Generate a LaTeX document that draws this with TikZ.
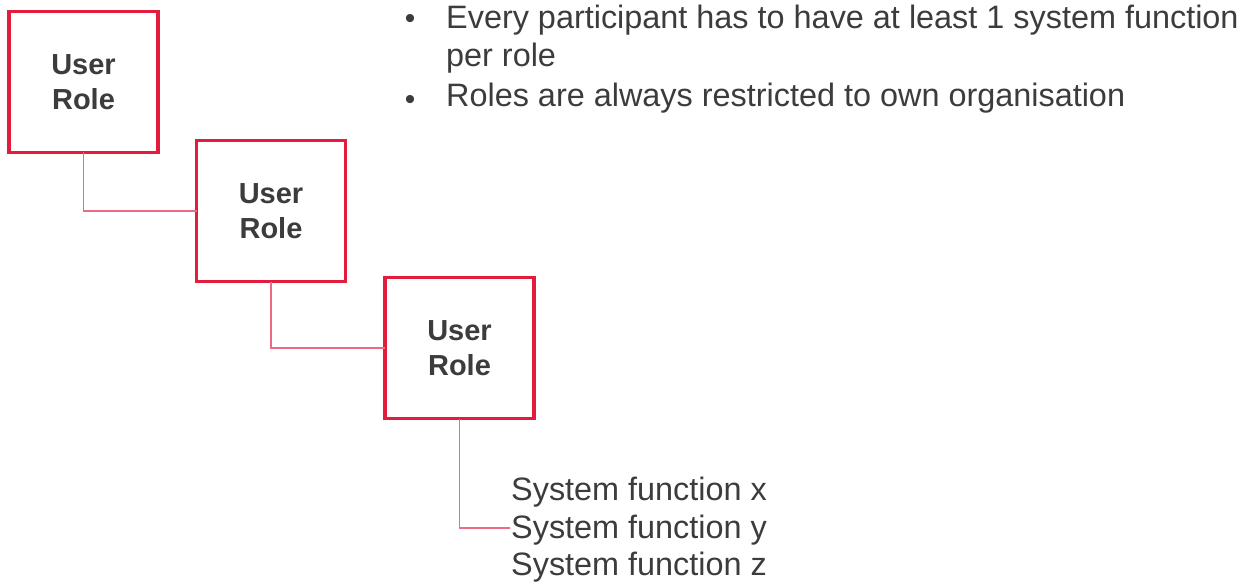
\documentclass[tikz,border=0pt]{standalone}
\usepackage{fontspec}
\setmainfont{Liberation Sans}
\definecolor{rolered}{HTML}{E31B3D}
\definecolor{linkred}{HTML}{EE6A80}
\definecolor{txt}{HTML}{3C3C3C}
\begin{document}
\begin{tikzpicture}[x=1pt,y=-1pt,
  rolebox/.style={draw=rolered,line width=3.5pt,rectangle,minimum width=149pt,minimum height=141pt,
    outer sep=0pt,inner sep=0pt,align=center,text=txt,font=\fontsize{29}{35}\selectfont\bfseries},
  link/.style={draw=linkred,line width=1.4pt},
  bodytext/.style={text=txt,inner sep=0pt,font=\fontsize{32.4}{38}\selectfont,anchor=base west},
  bulletdot/.style={text=txt,inner sep=0pt,font=\fontsize{30}{34}\selectfont,anchor=base}]
\useasboundingbox (0,0) rectangle (1250,583);
\node[rolebox] (b1) at (83.5,82) {User\\Role};
\node[rolebox] (b2) at (271,211) {User\\Role};
\node[rolebox] (b3) at (459.5,348) {User\\Role};
\node[bodytext] (l1) at (446,29) {Every participant has to have at least 1 system function};
\node[bodytext] (l2) at (446,67) {per role};
\node[bodytext] (l3) at (446,107) {Roles are always restricted to own organisation};
\node[bulletdot] (d1) at (410,29) {•};
\node[bulletdot] (d2) at (410,110) {•};
\node[bodytext] (s1) at (511,500) {System function x};
\node[bodytext,inner xsep=1pt] (s2) at (510,538) {System function y};
\node[bodytext] (s3) at (511,575) {System function z};
\coordinate (s2w) at (510,528);
\draw[link] (b1.south) |- (b2.west);
\draw[link] (b2.south) |- (b3.west);
\draw[link] (b3.south) |- (s2w);
\end{tikzpicture}
\end{document}
